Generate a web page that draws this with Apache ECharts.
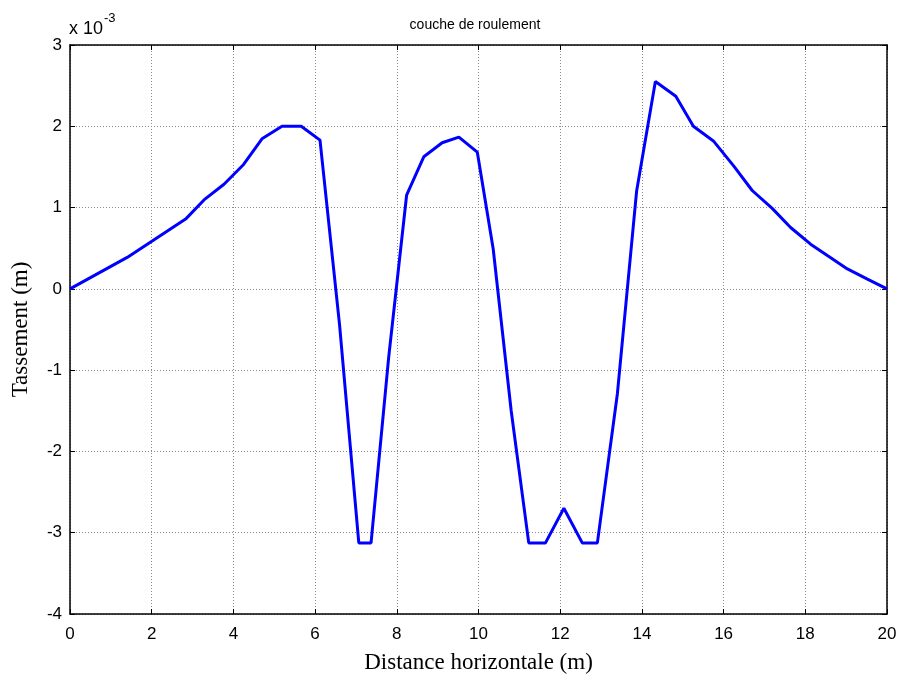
<!DOCTYPE html>
<html>
<head>
<meta charset="utf-8">
<script src="https://cdn.jsdelivr.net/npm/echarts@6/dist/echarts.min.js"></script>
<style>
  html, body { margin: 0; padding: 0; background: #fff; }
  #chart { width: 901px; height: 676px; }
</style>
</head>
<body>
<div id="chart"></div>
<script>
// Horizontal distance along the section (m)
const distance = [0, 1.40, 2.83, 3.28, 3.77, 4.25, 4.70, 5.19, 5.66, 6.12, 6.60, 7.07, 7.37, 7.80, 8.24, 8.66, 9.11, 9.52, 9.97, 10.36, 10.80, 11.23, 11.64, 12.09, 12.54, 12.91, 13.40, 13.87, 14.33, 14.83, 15.26, 15.75, 16.25, 16.70, 17.19, 17.64, 18.13, 18.54, 19.03, 19.52, 20.0];
// Settlement, in units of 1e-3 m
const settlement = [0, 0.387, 0.858, 1.094, 1.287, 1.53, 1.846, 2.0, 2.0, 1.83, -0.45, -3.125, -3.125, -0.85, 1.152, 1.625, 1.797, 1.866, 1.683, 0.49, -1.5, -3.125, -3.125, -2.70, -3.125, -3.125, -1.29, 1.20, 2.55, 2.37, 2.0, 1.82, 1.51, 1.21, 0.99, 0.755, 0.55, 0.41, 0.245, 0.12, 0];

const xTicks = [0, 2, 4, 6, 8, 10, 12, 14, 16, 18, 20];
const yTicks = [-4, -3, -2, -1, 0, 1, 2, 3];

const chart = echarts.init(document.getElementById('chart'), null, { renderer: 'canvas' });

const gridLine = { show: true, lineStyle: { color: '#8a8a8a', type: [1, 2], width: 1 } };
const tickIn = { show: true, inside: true, length: 5, lineStyle: { color: '#000', width: 1 } };
const sans = 'Liberation Sans, Arial';
const serif = 'Liberation Serif, Times New Roman';

chart.setOption({
  animation: false,
  backgroundColor: '#ffffff',
  title: {
    text: 'couche de roulement',
    left: 470, top: 13, textAlign: 'center',
    textStyle: { fontFamily: sans, fontSize: 14, fontWeight: 'normal', color: '#000' }
  },
  grid: { left: 70, right: 14, top: 45, bottom: 62, show: false, outerBoundsMode: 'none', containLabel: false },
  graphic: [{
    type: 'text', left: 69, top: 12,
    style: {
      text: '{a|x 10}{b|-3}',
      rich: {
        a: { fontFamily: sans, fontSize: 18, color: '#000', verticalAlign: 'bottom', lineHeight: 26 },
        b: { fontFamily: sans, fontSize: 13, color: '#000', verticalAlign: 'top', padding: [0, 0, 12, 1] }
      }
    }
  }],
  xAxis: [{
    type: 'value', min: xTicks[0], max: xTicks[xTicks.length - 1], interval: 2,
    name: 'Distance horizontale (m)', nameLocation: 'middle', nameGap: 37,
    nameTextStyle: { fontFamily: serif, fontSize: 23, color: '#000' },
    axisLine: { show: true, onZero: false, lineStyle: { color: '#000', width: 1.5 } },
    axisTick: tickIn,
    axisLabel: { color: '#000', fontFamily: sans, fontSize: 17, margin: 12 },
    splitLine: gridLine
  }, {
    type: 'value', position: 'top', min: xTicks[0], max: xTicks[xTicks.length - 1], interval: 2,
    axisLine: { show: true, onZero: false, lineStyle: { color: '#000', width: 1.5 } },
    axisTick: tickIn, axisLabel: { show: false }, splitLine: { show: false }
  }],
  yAxis: [{
    type: 'value', min: yTicks[0], max: yTicks[yTicks.length - 1], interval: 1,
    name: 'Tassement (m)', nameLocation: 'middle', nameGap: 38, nameRotate: 90,
    nameTextStyle: { fontFamily: serif, fontSize: 23, color: '#000' },
    axisLine: { show: true, onZero: false, lineStyle: { color: '#000', width: 1.5 } },
    axisTick: tickIn,
    axisLabel: { color: '#000', fontFamily: sans, fontSize: 17, margin: 8 },
    splitLine: gridLine
  }, {
    type: 'value', position: 'right', min: yTicks[0], max: yTicks[yTicks.length - 1], interval: 1,
    axisLine: { show: true, onZero: false, lineStyle: { color: '#000', width: 1.5 } },
    axisTick: tickIn, axisLabel: { show: false }, splitLine: { show: false }
  }],
  series: [{
    type: 'line',
    data: distance.map((d, i) => [d, settlement[i]]),
    showSymbol: false,
    lineStyle: { color: '#0000ff', width: 3 },
    itemStyle: { color: '#0000ff' },
    z: 5
  }]
});
</script>
</body>
</html>
